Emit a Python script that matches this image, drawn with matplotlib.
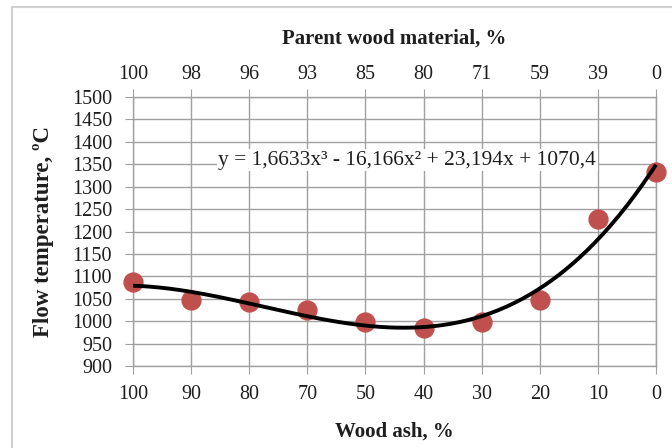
import numpy as np
import matplotlib
matplotlib.use("Agg")
import matplotlib.pyplot as plt
from matplotlib.patches import Rectangle

plt.rcParams['font.family'] = ['Liberation Serif', 'DejaVu Serif']

wood_ash = ["100", "90", "80", "70", "50", "40", "30", "20", "10", "0"]
parent_wood = ["100", "98", "96", "93", "85", "80", "71", "59", "39", "0"]
flow_temp = [1087, 1047, 1043, 1025, 998, 985, 998, 1048, 1227, 1332]
# cubic trendline coefficients (highest power first)
trend_coef = [1.6633, -16.166, 23.194, 1070.4]

fig = plt.figure(figsize=(6.72, 4.48), dpi=100)
fig.patches.append(Rectangle((12 / 672, -0.1), 1.2, 1 - 7 / 448 + 0.1,
                             transform=fig.transFigure, fill=False,
                             edgecolor='#d0d0d0', linewidth=1.5))

ax = fig.add_axes([133 / 672, 1 - 366 / 448, (656 - 133) / 672, (366 - 97) / 448])
x = np.arange(1, len(flow_temp) + 1)

grid_c = '#a0a0a0'
txt_c = '#1e1e1e'
ax.set_xlim(1, 10)
ax.set_ylim(900, 1500)
ax.set_yticks(np.arange(900, 1501, 50))
ax.set_xticks(x)
ax.set_xticklabels(wood_ash)
ax.grid(True, color=grid_c, linewidth=1.0)
ax.set_axisbelow(True)
for s in ax.spines.values():
    s.set_color(grid_c)
    s.set_linewidth(1.0)
ax.tick_params(axis='both', colors=grid_c, labelcolor=txt_c,
               labelsize=14.5, direction='out', length=6)
ax.tick_params(axis='x', pad=8)
ax.tick_params(axis='y', pad=9)

ax.scatter(x, flow_temp, s=185, color='#c0504d', zorder=3, clip_on=False)
xs = np.linspace(1, 10, 200)
ax.plot(xs, np.polyval(trend_coef, xs), color='black', linewidth=2.8,
        zorder=4, clip_on=False, solid_capstyle='butt')

ax.text(5.72, 1359, "y = 1,6633x³ - 16,166x² + 23,194x + 1070,4",
        ha='center', va='center', fontsize=15.5, color=txt_c,
        bbox=dict(facecolor='white', edgecolor='none', pad=1.0), zorder=5)

ax.set_xlabel("Wood ash, %", fontsize=15, fontweight='bold', labelpad=12,
              color=txt_c)
ax.set_ylabel("Flow temperature, ºC", fontsize=16.5, fontweight='bold',
              labelpad=13, color=txt_c)

top = ax.twiny()
top.set_xlim(ax.get_xlim())
top.set_xticks(x)
top.set_xticklabels(parent_wood)
for s in top.spines.values():
    s.set_visible(False)
top.tick_params(axis='x', colors=grid_c, labelcolor=txt_c, labelsize=14.5,
                direction='out', length=6, pad=3.5)
top.set_xlabel("Parent wood material, %", fontsize=15, fontweight='bold',
               labelpad=15, color=txt_c)

fig.savefig("out.png", dpi=100)
